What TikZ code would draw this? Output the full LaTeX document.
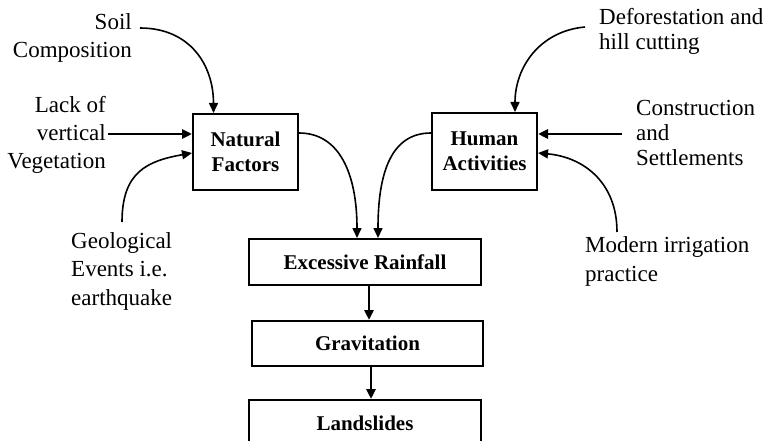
\documentclass[tikz,border=0pt]{standalone}
\usepackage{fontspec}
\setmainfont{Liberation Serif}
\usetikzlibrary{arrows.meta}
\begin{document}
\begin{tikzpicture}[x=1pt,y=-1pt,
  box/.style={draw, line width=2pt, inner sep=0pt, align=center,
    font=\fontsize{21}{25}\selectfont\bfseries},
  lbl/.style={inner sep=0pt, font=\fontsize{23}{28.5}\selectfont},
  lblr/.style={inner sep=0pt, font=\fontsize{23}{25.5}\selectfont},
  tip/.style={-{Triangle[length=10pt,width=9pt]}},
  link/.style={tip, line width=1.6pt},
  feed/.style={tip, line width=2.6pt}]
\clip (0,0) rectangle (766,441);
\useasboundingbox (0,0) rectangle (766,441);

% main boxes
\node[box, minimum width=105pt, minimum height=76pt] (nat) at (245.5,152) {Natural\\Factors};
\node[box, minimum width=105pt, minimum height=77pt] (hum) at (484.5,151.5) {Human\\Activities};
\node[box, minimum width=232pt, minimum height=46pt] (rain) at (365,262) {Excessive Rainfall};
\node[box, minimum width=231pt, minimum height=45pt] (grav) at (367.5,343.5) {Gravitation};
\node[box, minimum width=232pt, minimum height=46pt] (land) at (365,423) {Landslides};

% causes (anchored on the baseline of their last line)
\node[lbl, align=right, anchor=base east] (soil) at (132,58) {Soil\\Composition};
\node[lbl, align=right, anchor=base east] (lack) at (106,169) {Lack of\\vertical\\Vegetation};
\node[lbl, align=left, anchor=base west] (geo) at (71,305) {Geological\\Events i.e.\\earthquake};
\node[lblr, align=left, anchor=base west] (defo) at (599,50) {Deforestation and\\hill cutting};
\node[lblr, align=left, anchor=base west] (cons) at (636,166) {Construction\\and\\Settlements};
\node[lbl, align=left, anchor=base west] (irr) at (585,281) {Modern irrigation\\practice};

% free ends of the connectors beside the labels
\coordinate (soilend) at (140,28);
\coordinate (lackend) at (108,134);
\coordinate (geoend) at (122,222);
\coordinate (defoend) at (585,27);
\coordinate (consend) at (622,134);
\coordinate (irrend) at (617,232);

% into Natural Factors
\draw[link] (soilend) .. controls +(50,0) and +(0,-48) .. ([xshift=-32pt]nat.north);
\draw[feed] (lackend) -- ([yshift=18pt]nat.west);
\draw[link] (geoend) .. controls +(0,-50) and +(-45,8) .. ([yshift=-1pt]nat.west);

% into Human Activities
\draw[link] (defoend) .. controls +(-45,4) and +(0,-45) .. ([xshift=30.5pt]hum.north);
\draw[feed] (consend) -- ([yshift=17.5pt]hum.east);
\draw[link] (irrend) .. controls +(0,-50) and +(45,4) .. ([yshift=-1.5pt]hum.east);

% towards the landslides
\draw[link] ([yshift=19pt]nat.east) .. controls +(40,0) and +(0,-65) .. ([xshift=-8pt]rain.north);
\draw[link] ([yshift=18.5pt]hum.west) .. controls +(-40,0) and +(0,-65) .. ([xshift=13pt]rain.north);
\draw[feed] ([xshift=4pt]rain.south) -- ([xshift=1.5pt]grav.north);
\draw[feed] ([xshift=3.5pt]grav.south) -- ([xshift=6pt]land.north);
\end{tikzpicture}
\end{document}
